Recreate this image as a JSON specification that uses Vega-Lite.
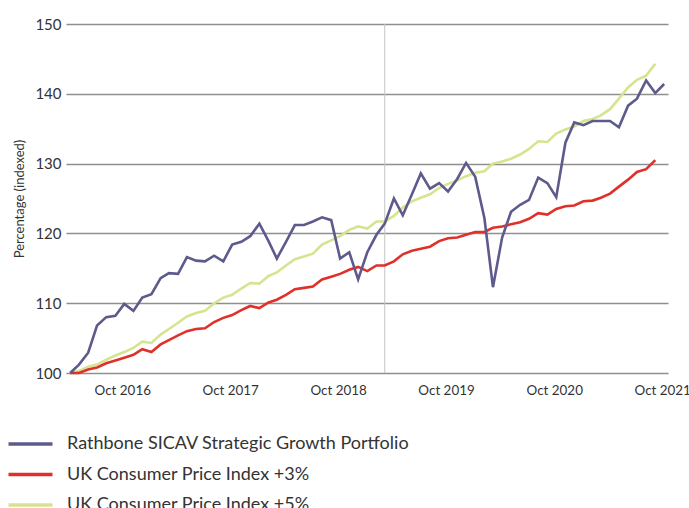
{
  "$schema": "https://vega.github.io/schema/vega-lite/v6.json",
  "autosize": {"type": "none"},
  "padding": {"left": 66, "top": 24, "right": 21, "bottom": 135},
  "width": 602,
  "height": 349,
  "background": "white",
  "config": {
    "view": {"stroke": null},
    "font": "Lato",
    "axis": {"labelFont": "Lato", "titleFont": "Lato", "labelColor": "#333333", "titleColor": "#333333"},
    "legend": {"labelFont": "Lato"}
  },
  "datasets": {
    "perf": [
      {"d": "2016-04-01", "R": 100.0, "C3": 100.0, "C5": 100.0},
      {"d": "2016-05-01", "R": 101.2, "C3": 100.0, "C5": 100.3},
      {"d": "2016-06-01", "R": 102.9, "C3": 100.5, "C5": 100.9},
      {"d": "2016-07-01", "R": 106.8, "C3": 100.8, "C5": 101.2},
      {"d": "2016-08-01", "R": 108.0, "C3": 101.4, "C5": 101.9},
      {"d": "2016-09-01", "R": 108.2, "C3": 101.8, "C5": 102.5},
      {"d": "2016-10-01", "R": 109.9, "C3": 102.2, "C5": 103.0},
      {"d": "2016-11-01", "R": 108.9, "C3": 102.6, "C5": 103.6},
      {"d": "2016-12-01", "R": 110.8, "C3": 103.4, "C5": 104.5},
      {"d": "2017-01-01", "R": 111.3, "C3": 103.0, "C5": 104.3},
      {"d": "2017-02-01", "R": 113.6, "C3": 104.1, "C5": 105.5},
      {"d": "2017-03-01", "R": 114.3, "C3": 104.7, "C5": 106.3},
      {"d": "2017-04-01", "R": 114.2, "C3": 105.4, "C5": 107.2},
      {"d": "2017-05-01", "R": 116.6, "C3": 106.0, "C5": 108.1},
      {"d": "2017-06-01", "R": 116.1, "C3": 106.3, "C5": 108.6},
      {"d": "2017-07-01", "R": 116.0, "C3": 106.4, "C5": 108.9},
      {"d": "2017-08-01", "R": 116.8, "C3": 107.3, "C5": 110.0},
      {"d": "2017-09-01", "R": 116.0, "C3": 107.9, "C5": 110.8},
      {"d": "2017-10-01", "R": 118.4, "C3": 108.3, "C5": 111.2},
      {"d": "2017-11-01", "R": 118.8, "C3": 109.0, "C5": 112.1},
      {"d": "2017-12-01", "R": 119.6, "C3": 109.6, "C5": 112.9},
      {"d": "2018-01-01", "R": 121.4, "C3": 109.3, "C5": 112.8},
      {"d": "2018-02-01", "R": 118.9, "C3": 110.1, "C5": 113.9},
      {"d": "2018-03-01", "R": 116.4, "C3": 110.5, "C5": 114.4},
      {"d": "2018-04-01", "R": 118.8, "C3": 111.2, "C5": 115.4},
      {"d": "2018-05-01", "R": 121.2, "C3": 112.0, "C5": 116.3},
      {"d": "2018-06-01", "R": 121.2, "C3": 112.2, "C5": 116.7},
      {"d": "2018-07-01", "R": 121.7, "C3": 112.4, "C5": 117.1},
      {"d": "2018-08-01", "R": 122.3, "C3": 113.4, "C5": 118.4},
      {"d": "2018-09-01", "R": 121.9, "C3": 113.8, "C5": 119.0},
      {"d": "2018-10-01", "R": 116.4, "C3": 114.2, "C5": 119.6},
      {"d": "2018-11-01", "R": 117.3, "C3": 114.8, "C5": 120.5},
      {"d": "2018-12-01", "R": 113.4, "C3": 115.2, "C5": 121.0},
      {"d": "2019-01-01", "R": 117.3, "C3": 114.6, "C5": 120.7},
      {"d": "2019-02-01", "R": 119.8, "C3": 115.4, "C5": 121.7},
      {"d": "2019-03-01", "R": 121.4, "C3": 115.4, "C5": 121.7},
      {"d": "2019-04-01", "R": 125.0, "C3": 116.0, "C5": 122.5},
      {"d": "2019-05-01", "R": 122.6, "C3": 117.0, "C5": 123.7},
      {"d": "2019-06-01", "R": 125.6, "C3": 117.5, "C5": 124.6},
      {"d": "2019-07-01", "R": 128.6, "C3": 117.8, "C5": 125.1},
      {"d": "2019-08-01", "R": 126.4, "C3": 118.1, "C5": 125.6},
      {"d": "2019-09-01", "R": 127.2, "C3": 118.9, "C5": 126.5},
      {"d": "2019-10-01", "R": 126.0, "C3": 119.3, "C5": 127.1},
      {"d": "2019-11-01", "R": 127.8, "C3": 119.4, "C5": 127.6},
      {"d": "2019-12-01", "R": 130.1, "C3": 119.8, "C5": 128.2},
      {"d": "2020-01-01", "R": 128.1, "C3": 120.2, "C5": 128.7},
      {"d": "2020-02-01", "R": 122.2, "C3": 120.2, "C5": 128.9},
      {"d": "2020-03-01", "R": 112.3, "C3": 120.8, "C5": 130.0},
      {"d": "2020-04-01", "R": 119.4, "C3": 121.0, "C5": 130.3},
      {"d": "2020-05-01", "R": 123.1, "C3": 121.3, "C5": 130.7},
      {"d": "2020-06-01", "R": 124.1, "C3": 121.6, "C5": 131.3},
      {"d": "2020-07-01", "R": 124.8, "C3": 122.1, "C5": 132.1},
      {"d": "2020-08-01", "R": 128.0, "C3": 122.9, "C5": 133.2},
      {"d": "2020-09-01", "R": 127.2, "C3": 122.7, "C5": 133.1},
      {"d": "2020-10-01", "R": 125.2, "C3": 123.5, "C5": 134.3},
      {"d": "2020-11-01", "R": 133.0, "C3": 123.9, "C5": 134.9},
      {"d": "2020-12-01", "R": 135.9, "C3": 124.0, "C5": 135.3},
      {"d": "2021-01-01", "R": 135.5, "C3": 124.6, "C5": 136.1},
      {"d": "2021-02-01", "R": 136.1, "C3": 124.7, "C5": 136.4},
      {"d": "2021-03-01", "R": 136.1, "C3": 125.1, "C5": 136.9},
      {"d": "2021-04-01", "R": 136.1, "C3": 125.7, "C5": 137.8},
      {"d": "2021-05-01", "R": 135.2, "C3": 126.7, "C5": 139.3},
      {"d": "2021-06-01", "R": 138.3, "C3": 127.7, "C5": 140.9},
      {"d": "2021-07-01", "R": 139.3, "C3": 128.8, "C5": 142.0},
      {"d": "2021-08-01", "R": 141.9, "C3": 129.2, "C5": 142.6},
      {"d": "2021-09-01", "R": 140.1, "C3": 130.5, "C5": 144.3},
      {"d": "2021-10-01", "R": 141.4, "C3": null, "C5": null}
    ],
    "marker": [{"d": "2019-03-01"}]
  },
  "layer": [
    {
      "data": {"name": "marker"},
      "mark": {"type": "rule", "color": "#c4c4c4", "strokeWidth": 1},
      "encoding": {
        "x": {"field": "d", "type": "temporal", "scale": {"type": "utc"}}
      }
    },
    {
      "data": {"name": "perf"},
      "transform": [{"fold": ["C5", "C3", "R"], "as": ["series", "value"]}],
      "mark": {"type": "line", "strokeWidth": 2.6, "interpolate": "linear"},
      "encoding": {
        "x": {
          "field": "d", "type": "temporal",
          "scale": {"type": "utc", "domain": [{"year": 2016, "month": 3, "date": 18, "utc": true}, {"year": 2021, "month": 10, "date": 14, "utc": true}]},
          "axis": {
            "title": null,
            "values": [
              {"year": 2016, "month": 10, "date": 1, "utc": true},
              {"year": 2017, "month": 10, "date": 1, "utc": true},
              {"year": 2018, "month": 10, "date": 1, "utc": true},
              {"year": 2019, "month": 10, "date": 1, "utc": true},
              {"year": 2020, "month": 10, "date": 1, "utc": true},
              {"year": 2021, "month": 10, "date": 1, "utc": true}
            ],
            "format": "%b %Y",
            "grid": false, "domain": false, "ticks": false,
            "labelPadding": 10, "labelFontSize": 13.4, "labelOffset": -2, "labelFlush": false, "labelOverlap": false
          }
        },
        "y": {
          "field": "value", "type": "quantitative",
          "scale": {"domain": [100, 150], "nice": false, "zero": false},
          "axis": {
            "title": "Percentage (indexed)", "titleFontSize": 13, "titleFontWeight": "normal", "titlePadding": 8,
            "values": [100, 110, 120, 130, 140, 150],
            "grid": true, "gridColor": "#8f8f8f", "gridWidth": 1.5,
            "domain": false, "ticks": false, "labelPadding": 5, "labelFontSize": 15
          }
        },
        "color": {
          "field": "series", "type": "nominal",
          "scale": {"domain": ["R", "C3", "C5"], "range": ["#5d5a8c", "#e0302a", "#d5e48f"]},
          "legend": {
            "title": null, "orient": "none", "legendX": -59.5, "legendY": 405,
            "direction": "vertical", "padding": 0, "rowPadding": 0.5,
            "symbolType": "stroke", "symbolSize": 1936, "symbolStrokeWidth": 3.5,
            "clipHeight": 30, "labelOffset": 12.5, "labelFontSize": 18, "labelColor": "#333333", "labelLimit": 500,
            "labelExpr": "datum.label == 'R' ? 'Rathbone SICAV Strategic Growth Portfolio' : datum.label == 'C3' ? 'UK Consumer Price Index +3%' : 'UK Consumer Price Index +5%'"
          }
        }
      }
    }
  ]
}
